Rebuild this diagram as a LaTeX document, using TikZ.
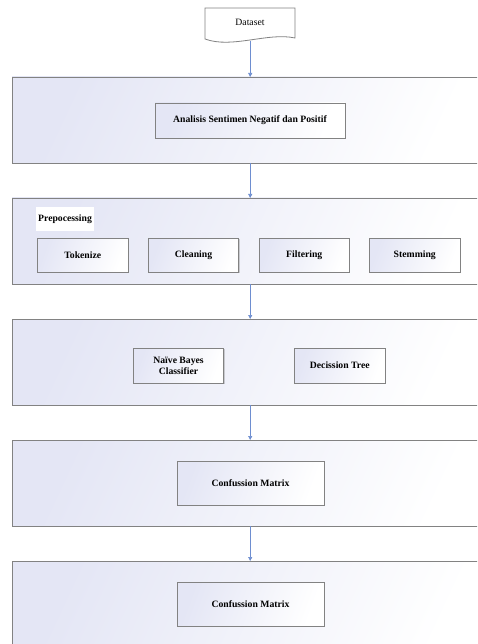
\documentclass[tikz,border=0pt]{standalone}
\usepackage{fontspec}
\setmainfont{Liberation Serif}
\usetikzlibrary{arrows.meta,shadows}
\definecolor{lav}{RGB}{228,230,245}
\definecolor{edgegray}{RGB}{130,130,130}
\definecolor{arrblue}{RGB}{110,142,208}
\tikzset{
  txt/.style={font=\fontsize{9.7}{11}\selectfont\bfseries, align=center},
  panel/.style={draw=edgegray, line width=0.9pt, left color=lav, middle color=lav!10!white, right color=white,
    shading angle=65, anchor=north west, inner sep=0pt, outer sep=0pt, minimum width=478pt},
  stepbox/.style={txt, draw=edgegray, line width=0.8pt, left color=lav, right color=white,
    shading angle=70, anchor=north west, inner sep=0pt, outer sep=0pt,
    drop shadow={shadow xshift=0.7pt, shadow yshift=-0.7pt, opacity=0.35}},
  arr/.style={draw=arrblue, line width=0.7pt, -{Triangle[length=4pt,width=4pt]}},
}
\begin{document}
\begin{tikzpicture}[x=1pt,y=-1pt]
\useasboundingbox (0,0) rectangle (477,644);
\clip (0,0) rectangle (477,644);
% dataset (document shape)
\draw[edgegray, line width=0.8pt, fill=white] (205,8) -- (295,8) -- (295,38)
  .. controls (268,32) and (232,49) .. (205,39) -- cycle;
\node[anchor=north west, inner sep=0pt, minimum width=90pt, minimum height=33pt,
  font=\fontsize{9.7}{11}\selectfont] (ds) at (205,8) {};
\node[font=\fontsize{9.7}{11}\selectfont] (dslabel) at (250,22) {Dataset};
% panels
\node[panel, minimum height=86pt] (b1) at (12,77) {};
\node[panel, minimum height=86pt] (b2) at (12,198) {};
\node[panel, minimum height=86pt] (b3) at (12,319) {};
\node[panel, minimum height=86pt] (b4) at (12,440) {};
\node[panel, minimum height=100pt] (b5) at (12,561) {};
% inner boxes
\node[stepbox, minimum width=190pt, minimum height=35pt] (an) at (155,103) {Analisis Sentimen Negatif dan Positif};
\node[txt, anchor=west, fill=white, inner sep=2pt, minimum height=23pt] (pre) at (36,219) {Prepocessing};
\node[stepbox, minimum width=90.5pt, minimum height=34pt] (tok) at (37.5,238) {Tokenize};
\node[stepbox, minimum width=90.5pt, minimum height=34pt] (cle) at (148.3,238) {Cleaning};
\node[stepbox, minimum width=90.5pt, minimum height=34pt] (fil) at (259,238) {Filtering};
\node[stepbox, minimum width=90.5pt, minimum height=34pt] (stm) at (369.5,238) {Stemming};
\node[stepbox, minimum width=90.5pt, minimum height=35pt] (nb) at (133.3,348) {Naïve Bayes\\Classifier};
\node[stepbox, minimum width=90.5pt, minimum height=35pt] (dt) at (294.5,348) {Decission Tree};
\node[stepbox, minimum width=147pt, minimum height=44pt] (cm1) at (177,461) {Confussion Matrix};
\node[stepbox, minimum width=147pt, minimum height=44pt] (cm2) at (177,582) {Confussion Matrix};
% arrows
\draw[arr] (ds.south) -- (ds.south |- b1.north);
\draw[arr] (ds.south |- b1.south) -- (ds.south |- b2.north);
\draw[arr] (ds.south |- b2.south) -- (ds.south |- b3.north);
\draw[arr] (ds.south |- b3.south) -- (ds.south |- b4.north);
\draw[arr] (ds.south |- b4.south) -- (ds.south |- b5.north);
\end{tikzpicture}
\end{document}
